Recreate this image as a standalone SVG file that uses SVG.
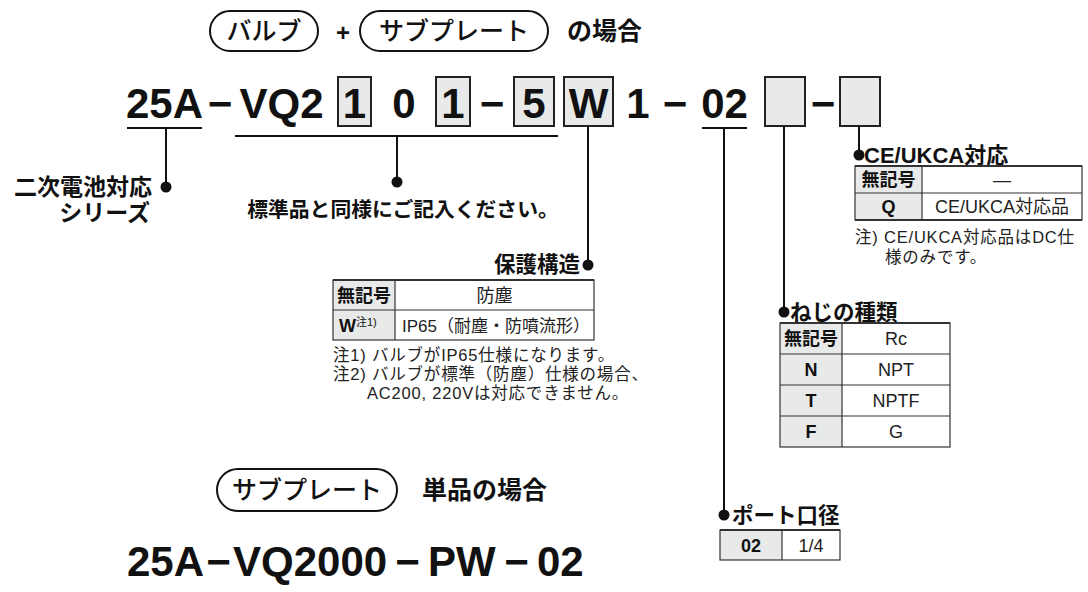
<svg xmlns="http://www.w3.org/2000/svg" width="1088" height="592" viewBox="0 0 1088 592">
<style>
  .code { font-family: "Liberation Sans", Arial, sans-serif; font-weight: bold; font-size: 42px; fill: #111; }
  .pilltxt { font-family: "Noto Sans CJK JP", sans-serif; font-size: 25px; font-weight: 500; fill: #111; }
  .head { font-family: "Noto Sans CJK JP", sans-serif; font-size: 25px; font-weight: bold; fill: #111; }
  .lbl { font-family: "Liberation Sans", "Noto Sans CJK JP", sans-serif; font-size: 21.5px; font-weight: bold; fill: #111; }
  .cell { font-family: "Liberation Sans", "Noto Sans CJK JP", sans-serif; font-size: 18px; fill: #222; }
  .cellb { font-family: "Liberation Sans", "Noto Sans CJK JP", sans-serif; font-size: 18px; font-weight: bold; fill: #111; }
  .note { font-family: "Liberation Sans", "Noto Sans CJK JP", sans-serif; font-size: 16.5px; letter-spacing: 0.8px; fill: #222; }
  .pill { fill: none; stroke: #111; stroke-width: 2; }
  .box { fill: #e8e9e9; stroke: #222; stroke-width: 2; }
  .gray { fill: #e8e9e9; }
  .tline { stroke: #333; stroke-width: 1.2; fill: none; }
  .tthick { stroke: #333; stroke-width: 2; fill: none; }
  .conn line { stroke: #111; stroke-width: 2; }
  .conn circle { fill: #111; }
</style>

<g id="title-top">
  <rect class="pill" x="210" y="11" width="108" height="40" rx="20"/>
  <text class="pilltxt" x="264" y="40" text-anchor="middle">バルブ</text>
  <text class="code" x="343" y="41" text-anchor="middle" style="font-size:24px">+</text>
  <rect class="pill" x="360" y="11" width="188" height="40" rx="20"/>
  <text class="pilltxt" x="454" y="40" text-anchor="middle">サブプレート</text>
  <text class="head" x="567" y="40">の場合</text>
</g>

<g id="code-row">
  <text class="code" x="164.5" y="118" text-anchor="middle">25A</text>
  <text class="code" x="220" y="118" text-anchor="middle">−</text>
  <text class="code" x="281.5" y="118" text-anchor="middle">VQ2</text>
  <rect class="box" x="338" y="77" width="33" height="49"/>
  <text class="code" x="354.5" y="118" text-anchor="middle">1</text>
  <text class="code" x="404" y="118" text-anchor="middle">0</text>
  <rect class="box" x="436" y="77" width="34" height="49"/>
  <text class="code" x="453" y="118" text-anchor="middle">1</text>
  <text class="code" x="492" y="118" text-anchor="middle">−</text>
  <rect class="box" x="514" y="77" width="40" height="49"/>
  <text class="code" x="534" y="118" text-anchor="middle">5</text>
  <rect class="box" x="564" y="77" width="49" height="49"/>
  <text class="code" x="588.5" y="118" text-anchor="middle">W</text>
  <text class="code" x="638" y="118" text-anchor="middle">1</text>
  <text class="code" x="675" y="118" text-anchor="middle">−</text>
  <text class="code" x="724.5" y="118" text-anchor="middle">02</text>
  <rect class="box" x="765" y="77" width="40" height="49"/>
  <text class="code" x="823" y="118" text-anchor="middle">−</text>
  <rect class="box" x="840" y="77" width="40" height="49"/>
</g>

<g id="conn" class="conn">
  <line x1="127" y1="128" x2="202" y2="128"/>
  <line x1="166" y1="128" x2="166" y2="187"/>
  <circle cx="166" cy="187" r="5.5"/>
  <line x1="235" y1="136" x2="558" y2="136"/>
  <line x1="397" y1="136" x2="397" y2="182"/>
  <circle cx="397" cy="182" r="5.5"/>
  <line x1="588" y1="126" x2="588" y2="265"/>
  <circle cx="588" cy="265" r="5.5"/>
  <line x1="702" y1="128" x2="747" y2="128"/>
  <line x1="724" y1="128" x2="724" y2="515"/>
  <circle cx="724" cy="515" r="5.5"/>
  <line x1="784" y1="126" x2="784" y2="312"/>
  <circle cx="784" cy="312" r="5.5"/>
  <line x1="859" y1="126" x2="859" y2="155"/>
  <circle cx="859" cy="155" r="5.5"/>
</g>

<g id="series">
  <text class="lbl" x="152" y="195" text-anchor="end" style="font-size:23px">二次電池対応</text>
  <text class="lbl" x="150" y="221" text-anchor="end" style="font-size:23px">シリーズ</text>
</g>

<g id="standard">
  <text class="lbl" x="403" y="217" text-anchor="middle" style="font-size:20.8px">標準品と同様にご記入ください。</text>
</g>

<g id="protect">
  <text class="lbl" x="580" y="272" text-anchor="end">保護構造</text>
  <rect class="gray" x="333" y="280" width="62" height="60"/>
  <rect class="tline" x="333" y="280" width="261" height="60"/>
  <line class="tthick" x1="333" y1="280" x2="594" y2="280"/>
  <line class="tline" x1="395" y1="280" x2="395" y2="340"/>
  <line class="tline" x1="333" y1="310" x2="594" y2="310"/>
  <text class="cellb" x="364" y="301.5" text-anchor="middle">無記号</text>
  <text class="cell" x="494.5" y="301.5" text-anchor="middle">防塵</text>
  <text class="cellb" x="339" y="332">W<tspan style="font-size:11px;font-weight:normal" dy="-6">注1)</tspan></text>
  <text class="cell" x="496" y="332" text-anchor="middle" style="font-size:17px">IP65（耐塵・防噴流形）</text>
  <text class="note" x="333" y="361">注1) バルブがIP65仕様になります。</text>
  <text class="note" x="333" y="380">注2) バルブが標準（防塵）仕様の場合、</text>
  <text class="note" x="367" y="399">AC200, 220Vは対応できません。</text>
</g>

<g id="ce">
  <text class="lbl" x="864" y="162.5" style="font-size:22px">CE/UKCA対応</text>
  <rect class="gray" x="855" y="166" width="67" height="54"/>
  <rect class="tline" x="855" y="166" width="227" height="54"/>
  <line class="tthick" x1="855" y1="166" x2="1082" y2="166"/>
  <line class="tthick" x1="855" y1="220" x2="1082" y2="220"/>
  <line class="tline" x1="922" y1="166" x2="922" y2="220"/>
  <line class="tline" x1="855" y1="193" x2="1082" y2="193"/>
  <text class="cellb" x="888.5" y="186" text-anchor="middle">無記号</text>
  <text class="cell" x="1002" y="186" text-anchor="middle">—</text>
  <text class="cellb" x="888.5" y="213" text-anchor="middle">Q</text>
  <text class="cell" x="1002" y="213" text-anchor="middle">CE/UKCA対応品</text>
  <text class="note" x="855" y="243">注) CE/UKCA対応品はDC仕</text>
  <text class="note" x="885" y="263">様のみです。</text>
</g>

<g id="thread">
  <text class="lbl" x="790" y="319.5">ねじの種類</text>
  <rect class="gray" x="780" y="323" width="62" height="124"/>
  <rect class="tline" x="780" y="323" width="170" height="124"/>
  <line class="tthick" x1="780" y1="323" x2="950" y2="323"/>
  <line class="tline" x1="842" y1="323" x2="842" y2="447"/>
  <line class="tline" x1="780" y1="354" x2="950" y2="354"/>
  <line class="tline" x1="780" y1="385" x2="950" y2="385"/>
  <line class="tline" x1="780" y1="416" x2="950" y2="416"/>
  <text class="cellb" x="811" y="345" text-anchor="middle">無記号</text>
  <text class="cell" x="896" y="345" text-anchor="middle">Rc</text>
  <text class="cellb" x="811" y="376" text-anchor="middle">N</text>
  <text class="cell" x="896" y="376" text-anchor="middle">NPT</text>
  <text class="cellb" x="811" y="407" text-anchor="middle">T</text>
  <text class="cell" x="896" y="407" text-anchor="middle">NPTF</text>
  <text class="cellb" x="811" y="438" text-anchor="middle">F</text>
  <text class="cell" x="896" y="438" text-anchor="middle">G</text>
</g>

<g id="port">
  <text class="lbl" x="732" y="522.5">ポート口径</text>
  <rect class="gray" x="720" y="530" width="62" height="30"/>
  <rect class="tline" x="720" y="530" width="120" height="30"/>
  <line class="tthick" x1="720" y1="530" x2="840" y2="530"/>
  <line class="tline" x1="782" y1="530" x2="782" y2="560"/>
  <text class="cellb" x="751" y="551.5" text-anchor="middle">02</text>
  <text class="cell" x="811" y="551.5" text-anchor="middle">1/4</text>
</g>

<g id="title-bottom">
  <rect class="pill" x="217" y="469" width="180" height="42" rx="21"/>
  <text class="pilltxt" x="307" y="499" text-anchor="middle">サブプレート</text>
  <text class="head" x="422" y="499">単品の場合</text>
</g>

<g id="code-bottom">
  <text class="code" x="127" y="576">25A</text>
  <text class="code" x="218.5" y="576" text-anchor="middle">−</text>
  <text class="code" x="233" y="576">VQ2000</text>
  <text class="code" x="407.5" y="576" text-anchor="middle">−</text>
  <text class="code" x="428" y="576">PW</text>
  <text class="code" x="516.5" y="576" text-anchor="middle">−</text>
  <text class="code" x="537" y="576">02</text>
</g>
</svg>
